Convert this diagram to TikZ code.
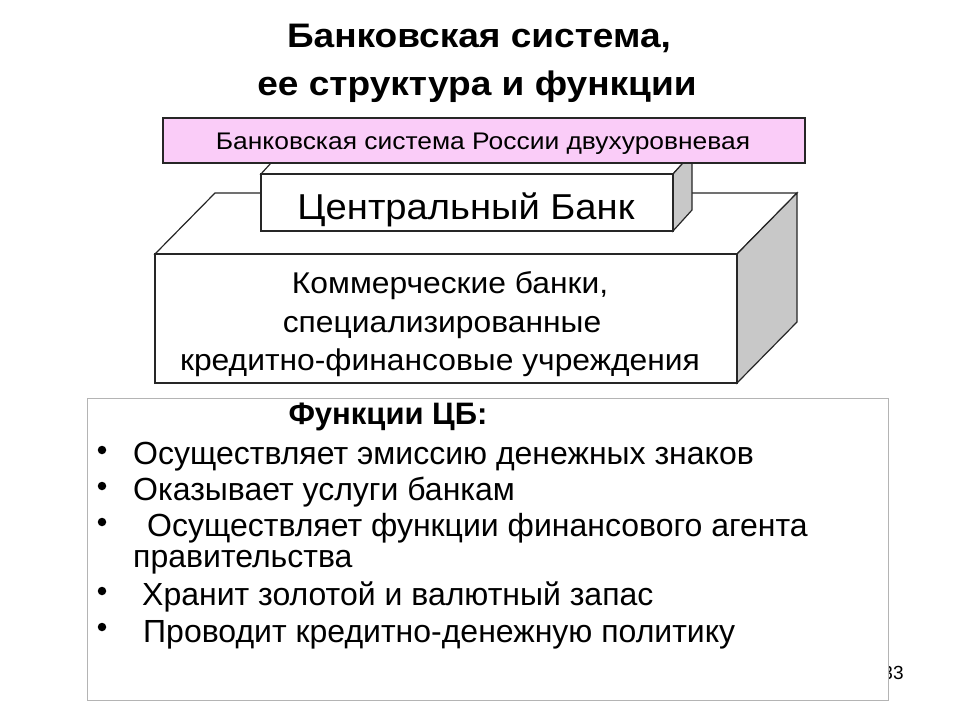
\documentclass[tikz,border=0pt]{standalone}
\usepackage{fontspec}
\setmainfont{Liberation Sans}
\newfontfamily\titlefont[FakeStretch=1.09]{Liberation Sans}
\newfontfamily\pinkfont[FakeStretch=1.10]{Liberation Sans}
\newfontfamily\boxfont[FakeStretch=1.06]{Liberation Sans}
\definecolor{pinkfill}{HTML}{FACCF8}
\definecolor{sidegray}{HTML}{C8C8C8}
\definecolor{frameline}{HTML}{B4B4B4}
\tikzset{
  face/.style={draw=black!85, line width=1.2pt, line join=miter},
  txt/.style={inner sep=0pt, anchor=base, text=black},
  txtl/.style={inner sep=0pt, anchor=base west, text=black},
  bulletdot/.style={circle, fill=black, inner sep=0pt, minimum size=8.5pt},
  fn/.style={txtl, font=\fontsize{32}{38}\selectfont},
}
\begin{document}
\begin{tikzpicture}[x=1pt,y=-1pt]
\useasboundingbox (0,0) rectangle (960,720);
\fill[white] (0,0) rectangle (960,720);

% title
\node[txt] (t1) at (479,47) {\titlefont\fontsize{34}{40}\selectfont\bfseries Банковская система,};
\node[txt] (t2) at (477,95) {\titlefont\fontsize{34}{40}\selectfont\bfseries ее структура и функции};

% large box (commercial banks)
\coordinate (A) at (155,254); \coordinate (B) at (737,254);
\coordinate (C) at (737,383); \coordinate (D) at (155,383);
\coordinate (E) at (215,193); \coordinate (F) at (797,193);
\coordinate (G) at (797,322);
\filldraw[face, fill=white] (A) -- (E) -- (F) -- (B) -- cycle;
\filldraw[face, fill=sidegray] (B) -- (F) -- (G) -- (C) -- cycle;
\filldraw[face, fill=white] (A) rectangle (C);

% central bank box
\coordinate (H) at (261,174); \coordinate (I) at (673,174);
\coordinate (J) at (673,231); \coordinate (K) at (261,231);
\coordinate (L) at (280,153); \coordinate (M) at (692,153);
\coordinate (N) at (692,210);
\filldraw[face, fill=white] (H) -- (L) -- (M) -- (I) -- cycle;
\filldraw[face, fill=sidegray] (I) -- (M) -- (N) -- (J) -- cycle;
\filldraw[face, fill=white] (H) rectangle (J);

% pink box
\filldraw[face, fill=pinkfill] (163,118) rectangle (805,163);
\node[txt] (pink) at (483,149) {\pinkfont\fontsize{24}{28}\selectfont Банковская система России двухуровневая};

\node[txt] (cb) at (466,219) {\boxfont\fontsize{36}{42}\selectfont Центральный Банк};

\node[txt] (k1) at (450,293) {\boxfont\fontsize{30}{36}\selectfont Коммерческие банки,};
\node[txt] (k2) at (442,332) {\boxfont\fontsize{30}{36}\selectfont специализированные};
\node[txt] (k3) at (440,370) {\boxfont\fontsize{30}{36}\selectfont кредитно-финансовые учреждения};

% page number and functions box
\node[txt] (pg) at (893,679) {\fontsize{19}{23}\selectfont 33};
\filldraw[draw=frameline, line width=1pt, fill=white] (87,398) rectangle (888,700);

\node[txt] (fh) at (388,424) {\fontsize{31}{36}\selectfont\bfseries Функции ЦБ:};

\node[bulletdot] (b1) at (102,450) {};
\node[bulletdot] (b2) at (102,486) {};
\node[bulletdot] (b3) at (102,522) {};
\node[bulletdot] (b4) at (102,591) {};
\node[bulletdot] (b5) at (102,627) {};

\node[fn] (f1) at (133,464) {Осуществляет эмиссию денежных знаков};
\node[fn] (f2) at (133,500) {Оказывает услуги банкам};
\node[fn] (f3) at (147,536) {Осуществляет функции финансового агента};
\node[fn] (f3b) at (133,567.5) {правительства};
\node[fn] (f4) at (142,605) {Хранит золотой и валютный запас};
\node[fn] (f5) at (143,642) {Проводит кредитно-денежную политику};
\end{tikzpicture}
\end{document}
